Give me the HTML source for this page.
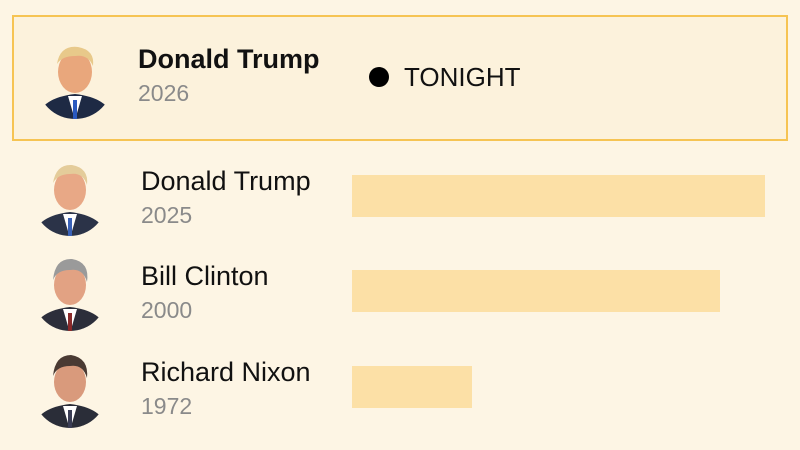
<!DOCTYPE html>
<html><head><meta charset="utf-8"><style>
html,body{margin:0;padding:0}
body{width:800px;height:450px;background:#fdf5e4;position:relative;overflow:hidden;font-family:"Liberation Sans",sans-serif}
.box{position:absolute;left:12px;top:15px;width:772px;height:122px;border:2px solid #f6c453;background:#fcf2dc}
.t{position:absolute;white-space:nowrap}
.name{font-size:27px;color:#111}
.yr{font-size:23px;color:#8a8a8a}
.bar{position:absolute;background:#fce0a6;height:42px;left:352px}
svg{position:absolute}
</style></head><body>
<div class="box"></div>
<svg width="800" height="450" style="left:0;top:0">
<defs>
<clipPath id="c1"><circle cx="75" cy="81" r="38"/></clipPath>
<clipPath id="c2"><circle cx="70" cy="199" r="37"/></clipPath>
<clipPath id="c3"><circle cx="70" cy="294" r="37"/></clipPath>
<clipPath id="c4"><circle cx="70" cy="391" r="37"/></clipPath>
</defs>
<g clip-path="url(#c1)"><rect x="30" y="40" width="90" height="80" fill="#fcf2dc"/><path d="M37 120 Q40 98 75 94 Q110 98 113 120Z" fill="#1e2a44"/><path d="M68 96 L75 120 L82 96Z" fill="#fff"/><rect x="73" y="100" width="4" height="20" fill="#2a5ac0"/><ellipse cx="75" cy="72" rx="17" ry="21" fill="#e9a77c"/><path d="M57 64 Q60 45 78 47 Q95 50 93 66 Q88 54 75 56 Q62 56 57 64Z" fill="#e8c98a"/></g>
<g clip-path="url(#c2)"><rect x="30" y="160" width="80" height="80" fill="#fdf5e4"/><path d="M33 238 Q36 216 70 212 Q104 216 107 238Z" fill="#2b3348"/><path d="M63 214 L70 238 L77 214Z" fill="#fff"/><rect x="68" y="218" width="4" height="20" fill="#3a62b8"/><ellipse cx="70" cy="190" rx="16" ry="20" fill="#e8a886"/><path d="M53 183 Q56 164 72 165 Q89 168 87 185 Q83 172 70 174 Q58 174 53 183Z" fill="#e4cc9a"/></g>
<g clip-path="url(#c3)"><rect x="30" y="255" width="80" height="80" fill="#fdf5e4"/><path d="M33 333 Q36 311 70 307 Q104 311 107 333Z" fill="#2c2e3a"/><path d="M63 309 L70 333 L77 309Z" fill="#fff"/><rect x="68" y="313" width="4" height="20" fill="#8a2a2a"/><ellipse cx="70" cy="285" rx="16" ry="20" fill="#e2a283"/><path d="M53 280 Q55 258 72 259 Q90 262 87 282 Q83 268 70 270 Q57 270 53 280Z" fill="#9a9a9a"/></g>
<g clip-path="url(#c4)"><rect x="30" y="352" width="80" height="80" fill="#fdf5e4"/><path d="M33 430 Q36 408 70 404 Q104 408 107 430Z" fill="#2a2d38"/><path d="M63 406 L70 430 L77 406Z" fill="#fff"/><rect x="68" y="410" width="4" height="20" fill="#3a3d55"/><ellipse cx="70" cy="382" rx="16" ry="20" fill="#d99a7c"/><path d="M53 376 Q55 355 71 355 Q89 358 87 378 Q83 364 70 366 Q57 366 53 376Z" fill="#4a3a33"/></g>
<circle cx="379" cy="77" r="10" fill="#000"/>
</svg>
<div class="t name" style="left:138px;top:44px;font-weight:bold">Donald Trump</div>
<div class="t yr" style="left:138px;top:80px">2026</div>
<div class="t name" style="left:404px;top:62px;font-size:26px">TONIGHT</div>
<div class="t name" style="left:141px;top:166px">Donald Trump</div>
<div class="t yr" style="left:141px;top:202px">2025</div>
<div class="t name" style="left:141px;top:261px">Bill Clinton</div>
<div class="t yr" style="left:141px;top:297px">2000</div>
<div class="t name" style="left:141px;top:357px">Richard Nixon</div>
<div class="t yr" style="left:141px;top:393px">1972</div>
<div class="bar" style="top:175px;width:413px"></div>
<div class="bar" style="top:270px;width:368px"></div>
<div class="bar" style="top:366px;width:120px"></div>
</body></html>
